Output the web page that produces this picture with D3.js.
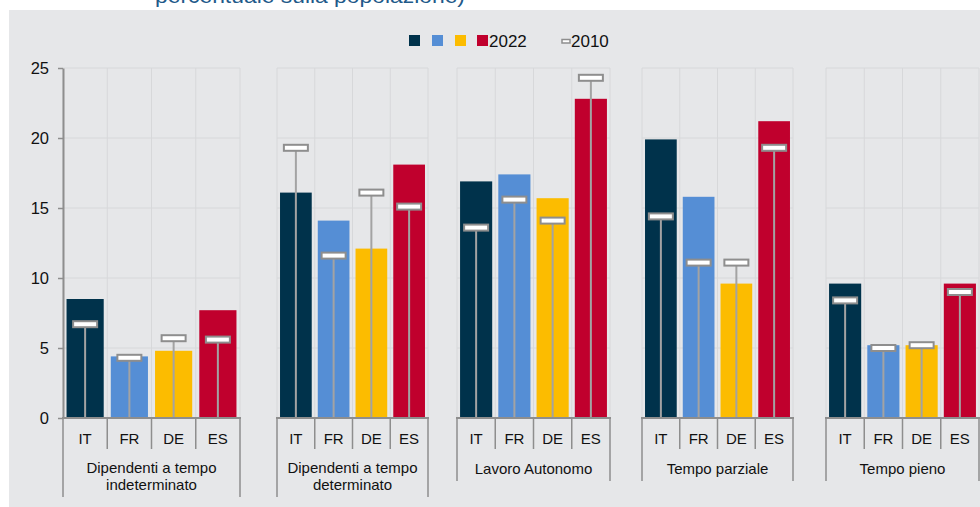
<!DOCTYPE html>
<html>
<head>
<meta charset="utf-8">
<script src="https://cdn.jsdelivr.net/npm/d3@7"></script>
<style>
  html, body { margin: 0; padding: 0; background: #fff; }
  svg { display: block; font-family: "Liberation Sans", Arial, sans-serif; }
</style>
</head>
<body>
<svg id="chart" width="980" height="507"></svg>
<script>
// Data
const countries = ["IT", "FR", "DE", "ES"];
const groupLabels = [
  ["Dipendenti a tempo", "indeterminato"],
  ["Dipendenti a tempo", "determinato"],
  ["Lavoro Autonomo"],
  ["Tempo parziale"],
  ["Tempo pieno"]
];
const values2022 = [
  [8.5, 4.4, 4.8, 7.7],
  [16.1, 14.1, 12.1, 18.1],
  [16.9, 17.4, 15.7, 22.8],
  [19.9, 15.8, 9.6, 21.2],
  [9.6, 5.2, 5.2, 9.6]
];
const values2010 = [
  [6.7, 4.3, 5.7, 5.6],
  [19.3, 11.6, 16.1, 15.1],
  [13.6, 15.6, 14.1, 24.3],
  [14.4, 11.1, 11.1, 19.3],
  [8.4, 5.0, 5.2, 9.0]
];
const yTicks = [0, 5, 10, 15, 20, 25];
const colors = ["#00324b", "#558ed5", "#fcbc00", "#c0002d"];

// Layout
const panelX = [[63, 240], [277, 428], [457, 610], [642, 793], [826, 979]];
const bg = "#e6e7e9", grid = "#d7d8da", axisCol = "#8e8e8e", whisker = "#a3a3a3";

const svg = d3.select("#chart");

svg.append("rect").attr("x", 9).attr("y", 10).attr("width", 971).attr("height", 497).attr("fill", bg);

// subtitle, cut off at the top edge as in the source
svg.append("text")
  .attr("x", 155).attr("y", 3)
  .attr("font-size", 20)
  .attr("fill", "#1f5a8a")
  .attr("textLength", 310)
  .attr("lengthAdjust", "spacingAndGlyphs")
  .text("percentuale sulla popolazione)");

const y = d3.scaleLinear().domain([0, 25]).range([418, 68]);

panelX.forEach((ext, gi) => {
  const g = svg.append("g");
  const x = d3.scaleBand().domain(countries).range(ext).paddingInner(0.16).paddingOuter(0.08);
  const step = x.step();
  const seps = d3.range(countries.length + 1).map(i => ext[0] + i * step);

  // grid
  g.selectAll(".hg").data(yTicks.slice(1)).join("line")
    .attr("x1", ext[0]).attr("x2", ext[1])
    .attr("y1", d => y(d)).attr("y2", d => y(d))
    .attr("stroke", grid).attr("stroke-width", 1);
  g.selectAll(".vg").data(seps).join("line")
    .attr("x1", d => d).attr("x2", d => d)
    .attr("y1", y(25)).attr("y2", y(0))
    .attr("stroke", grid).attr("stroke-width", 1);

  // bars 2022
  g.selectAll(".bar").data(values2022[gi]).join("rect")
    .attr("x", (d, i) => x(countries[i]))
    .attr("width", x.bandwidth())
    .attr("y", d => y(d))
    .attr("height", d => y(0) - y(d))
    .attr("fill", (d, i) => colors[i]);

  // 2010 whiskers + markers
  const cx = i => x(countries[i]) + x.bandwidth() / 2;
  g.selectAll(".wh").data(values2010[gi]).join("line")
    .attr("x1", (d, i) => cx(i)).attr("x2", (d, i) => cx(i))
    .attr("y1", y(0)).attr("y2", d => y(d))
    .attr("stroke", whisker).attr("stroke-width", 2);
  g.selectAll(".mk").data(values2010[gi]).join("rect")
    .attr("x", (d, i) => cx(i) - 12).attr("y", d => y(d) - 3)
    .attr("width", 24).attr("height", 6)
    .attr("fill", "#fff").attr("stroke", axisCol).attr("stroke-width", 2);

  // x axis
  const twoLines = groupLabels[gi].length > 1;
  g.append("line").attr("x1", ext[0] - 1).attr("x2", ext[1] + 1)
    .attr("y1", y(0)).attr("y2", y(0))
    .attr("stroke", axisCol).attr("stroke-width", 2);
  g.selectAll(".sep").data(seps).join("line")
    .attr("x1", d => d).attr("x2", d => d)
    .attr("y1", y(0))
    .attr("y2", (d, i) => (i === 0 || i === seps.length - 1) ? (twoLines ? 497 : 481) : 449)
    .attr("stroke", axisCol).attr("stroke-width", 1.5);

  g.selectAll(".cl").data(countries).join("text")
    .attr("x", d => x(d) + x.bandwidth() / 2)
    .attr("y", 444)
    .attr("text-anchor", "middle")
    .attr("font-size", 15)
    .attr("fill", "#111")
    .text(d => d);

  g.selectAll(".gl").data(groupLabels[gi]).join("text")
    .attr("x", (ext[0] + ext[1]) / 2)
    .attr("y", (d, i) => (twoLines ? 473 : 474) + i * 17)
    .attr("text-anchor", "middle")
    .attr("font-size", 15)
    .attr("fill", "#111")
    .text(d => d);
});

// y axis
const yAxis = svg.append("g")
  .attr("transform", `translate(${panelX[0][0]},0)`)
  .call(d3.axisLeft(y).tickValues(yTicks).tickSize(5).tickPadding(9).tickSizeOuter(0));
yAxis.select(".domain").attr("stroke", axisCol).attr("stroke-width", 2);
yAxis.selectAll(".tick line").attr("stroke", axisCol).attr("stroke-width", 1.5);
yAxis.selectAll(".tick text")
  .attr("font-size", 16.5)
  .attr("font-family", "Liberation Sans, Arial, sans-serif")
  .attr("fill", "#111");

// legend
const legend = svg.append("g");
const legX = [409, 432, 455, 477];
legend.selectAll("rect.sw").data(colors).join("rect")
  .attr("class", "sw")
  .attr("x", (d, i) => legX[i]).attr("y", 35)
  .attr("width", 11).attr("height", 11)
  .attr("fill", d => d);
legend.append("text").attr("x", 489).attr("y", 47)
  .attr("font-size", 17).attr("fill", "#111").text("2022");
legend.append("rect").attr("x", 562).attr("y", 39.5).attr("width", 8).attr("height", 3.5)
  .attr("fill", "#fff").attr("stroke", axisCol).attr("stroke-width", 1.5);
legend.append("text").attr("x", 571).attr("y", 47)
  .attr("font-size", 17).attr("fill", "#111").text("2010");
</script>
</body>
</html>
